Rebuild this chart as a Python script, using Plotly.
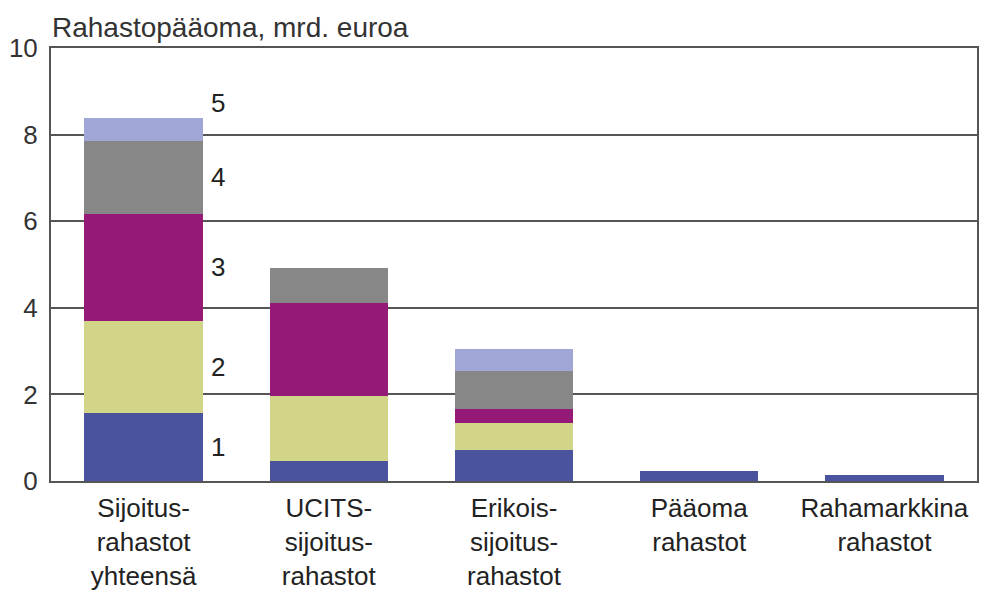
import plotly.graph_objects as go

categories = ["Sijoitus-<br>rahastot<br>yhteensä", "UCITS-<br>sijoitus-<br>rahastot",
              "Erikois-<br>sijoitus-<br>rahastot", "Pääoma<br>rahastot", "Rahamarkkina<br>rahastot"]
series_names = ["1", "2", "3", "4", "5"]
s1 = [1.57, 0.46, 0.72, 0.23, 0.14]
s2 = [2.13, 1.50, 0.62, 0.0, 0.0]
s3 = [2.47, 2.15, 0.32, 0.0, 0.0]
s4 = [1.68, 0.81, 0.88, 0.0, 0.0]
s5 = [0.53, 0.0, 0.51, 0.0, 0.0]
colors = ["#4a549e", "#d2d587", "#951a78", "#878787", "#a0a6d6"]
y_ticks = [0, 2, 4, 6, 8, 10]

series = [s1, s2, s3, s4, s5]
FONT = "Liberation Sans, Arial, sans-serif"
TXT = "#222222"

fig = go.Figure()
xs = list(range(len(categories)))
for name, vals, col in zip(series_names, series, colors):
    fig.add_trace(go.Bar(x=xs, y=vals, name=name, marker=dict(color=col, line=dict(width=0)),
                         width=0.64))

# segment labels next to first bar
cum = 0
for i, (name, vals) in enumerate(zip(series_names, series)):
    v = vals[0]
    if i < len(series) - 1:
        yl = cum + v / 2
    else:
        yl = cum + v + 0.35
    cum += v
    fig.add_annotation(x=0.40, y=yl, xref="x", yref="y", text=name, showarrow=False,
                       font=dict(size=26, color=TXT, family=FONT), xanchor="center", yanchor="middle")

fig.add_annotation(x=-0.001, y=1.006, xref="paper", yref="paper", text="Rahastopääoma, mrd. euroa",
                   showarrow=False, xanchor="left", yanchor="bottom",
                   font=dict(size=28, color="#333333", family=FONT))

fig.update_layout(
    barmode="stack",
    width=979, height=584,
    margin=dict(l=43, r=10, t=40, b=111),
    paper_bgcolor="white", plot_bgcolor="white",
    showlegend=False,
    font=dict(family=FONT, color=TXT),
    xaxis=dict(tickmode="array", tickvals=xs, ticktext=categories, range=[-0.5, 4.5],
               showline=True, linecolor="#555555", linewidth=2, mirror=True, automargin=False,
               ticks="", ticklabelstandoff=3,
               tickfont=dict(size=26, color=TXT, family=FONT), showgrid=False),
    yaxis=dict(range=[0, 10], tickvals=y_ticks, showline=True, linecolor="#555555", linewidth=2,
               mirror=True, showgrid=True, gridcolor="#555555", gridwidth=1.5, ticks="",
               automargin=False, ticklabelstandoff=6,
               tickfont=dict(size=26, color="#333333", family=FONT), zeroline=False),
    bargap=0.36,
)
fig.write_html("out.html")
